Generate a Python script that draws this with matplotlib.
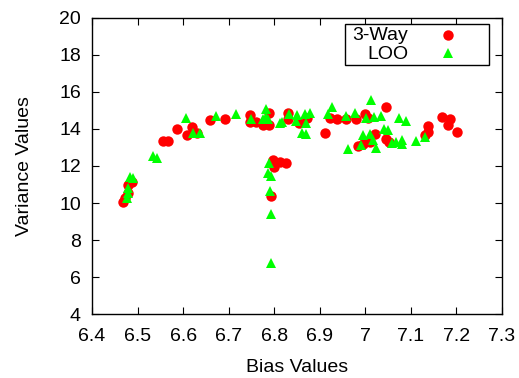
import matplotlib
matplotlib.use('Agg')
import matplotlib.pyplot as plt
from matplotlib.patches import Rectangle

# Data (bias, variance)
three_way_bias = [6.468, 6.472, 6.480, 6.480, 6.487,
                  6.555, 6.567, 6.587, 6.608, 6.619, 6.630, 6.659, 6.692,
                  6.746, 6.746, 6.761, 6.776, 6.789, 6.789, 6.779,
                  6.792, 6.798, 6.800, 6.812, 6.826,
                  6.831, 6.831, 6.855, 6.871, 6.911, 6.922, 6.937, 6.958,
                  6.980, 6.999, 7.006, 7.045, 7.021, 7.010, 6.984, 6.995,
                  7.045, 7.053, 7.138, 7.138, 7.130, 7.169, 7.185, 7.181, 7.202]
three_way_var = [10.07, 10.25, 10.52, 10.97, 11.15,
                 13.35, 13.35, 14.02, 13.68, 14.13, 13.80, 14.49, 14.56,
                 14.76, 14.39, 14.39, 14.22, 14.22, 14.85, 14.30,
                 10.40, 12.32, 11.93, 12.23, 12.18,
                 14.85, 14.52, 14.34, 14.58, 13.77, 14.58, 14.52, 14.52,
                 14.52, 14.81, 14.58, 15.21, 13.73, 13.31, 13.08, 13.19,
                 13.44, 13.31, 14.16, 13.85, 13.68, 14.66, 14.52, 14.22, 13.85]

loo_bias = [6.476, 6.480, 6.483, 6.491, 6.478,
            6.534, 6.543, 6.606, 6.621, 6.638, 6.672, 6.715, 6.748,
            6.781, 6.776, 6.787, 6.783, 6.812, 6.818,
            6.789, 6.787, 6.794, 6.790, 6.792, 6.792,
            6.833, 6.850, 6.847, 6.867, 6.878, 6.869, 6.860, 6.869,
            6.926, 6.918, 6.958, 6.977, 7.012, 7.001, 7.018, 7.035,
            7.075, 7.090, 6.962, 6.994, 7.010, 6.991, 7.017, 7.024,
            7.040, 7.050, 7.059, 7.067, 7.081, 7.081, 7.112, 7.130]
loo_var = [10.25, 10.80, 11.42, 11.33, 10.55,
           12.54, 12.42, 14.58, 13.80, 13.80, 14.69, 14.81, 14.52,
           15.07, 14.52, 14.52, 14.63, 14.30, 14.39,
           12.15, 11.64, 11.46, 10.65, 9.40, 6.74,
           14.81, 14.76, 14.45, 14.81, 14.85, 14.30, 13.80, 13.73,
           15.21, 14.81, 14.70, 14.88, 15.57, 14.58, 14.63, 14.70,
           14.58, 14.45, 12.90, 13.68, 13.73, 13.14, 13.41, 12.96,
           13.98, 13.95, 13.26, 13.31, 13.41, 13.19, 13.37, 13.55]

x_ticks = [6.4, 6.5, 6.6, 6.7, 6.8, 6.9, 7.0, 7.1, 7.2, 7.3]
x_labels = ['6.4', '6.5', '6.6', '6.7', '6.8', '6.9', '7', '7.1', '7.2', '7.3']
y_ticks = [4, 6, 8, 10, 12, 14, 16, 18, 20]

plt.rcParams['font.family'] = ['Liberation Sans', 'DejaVu Sans']
plt.rcParams['font.size'] = 14

fig = plt.figure(figsize=(5.19, 3.78), dpi=100)
ax = fig.add_axes([0.1773, 0.1693, 0.7899, 0.7831])

# Red circles first, green triangles on top
ax.plot(three_way_bias, three_way_var, 'o', color='#ff0000', markersize=7.5, markeredgewidth=0)
ax.plot(loo_bias, loo_var, '^', color='#00ff00', markersize=7.5, markeredgewidth=0)

ax.set_xlim(6.4, 7.3)
ax.set_ylim(4, 20)
ax.set_xticks(x_ticks)
ax.set_xticklabels(x_labels)
ax.set_yticks(y_ticks)
ax.tick_params(direction='in', length=5, top=True, right=True, width=0.8)
ax.tick_params(axis='x', pad=10)
ax.tick_params(axis='y', pad=8)
for s in ax.spines.values():
    s.set_linewidth(1.0)

ax.set_xlabel('Bias Values', labelpad=10)
ax.set_ylabel('Variance Values', labelpad=19)

# gnuplot-like key: right-justified text, marker to the right
ax.add_patch(Rectangle((0.617, 0.841), 0.351, 0.139, transform=ax.transAxes,
                       fill=True, facecolor='white', edgecolor='black', lw=1.0, zorder=5))
ax.text(0.771, 0.940, '3-Way', transform=ax.transAxes, ha='right', va='center', zorder=6)
ax.text(0.771, 0.878, 'LOO', transform=ax.transAxes, ha='right', va='center', zorder=6)
ax.plot([0.868], [0.943], 'o', color='#ff0000', markersize=7.5, markeredgewidth=0,
        transform=ax.transAxes, zorder=6, clip_on=False)
ax.plot([0.868], [0.881], '^', color='#00ff00', markersize=7.5, markeredgewidth=0,
        transform=ax.transAxes, zorder=6, clip_on=False)

fig.savefig('out.png', dpi=100)
